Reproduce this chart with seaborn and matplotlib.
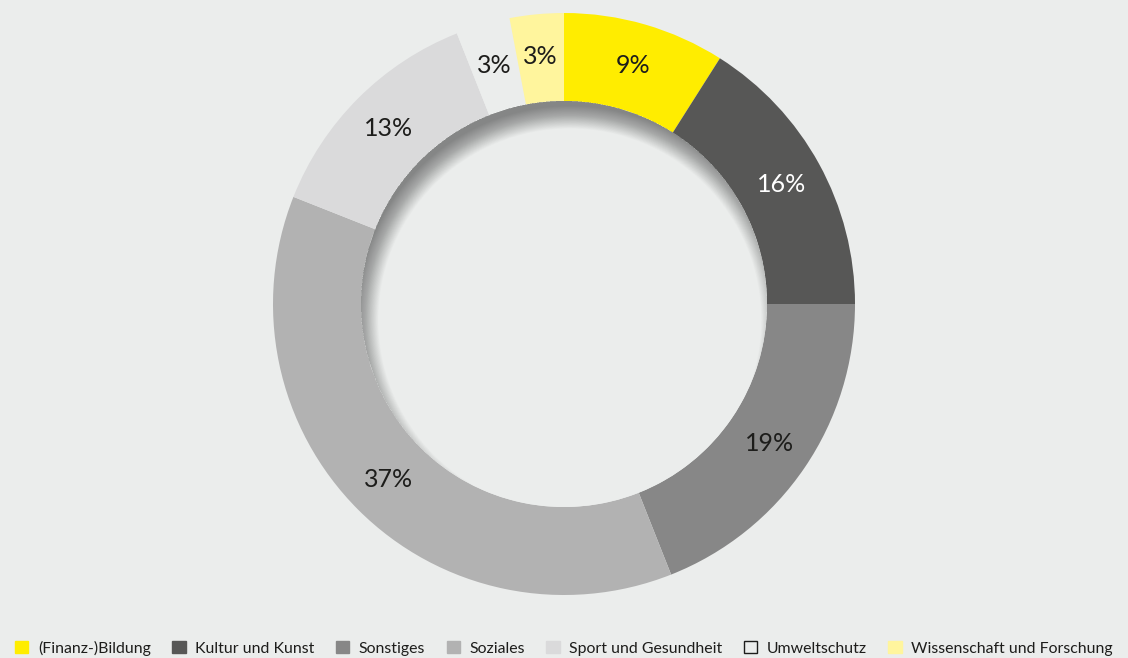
import matplotlib
matplotlib.use("Agg")
import matplotlib.pyplot as plt
from matplotlib.patches import Circle, Wedge, Patch
import seaborn as sns

# data
categories = ["(Finanz-)Bildung", "Kultur und Kunst", "Sonstiges", "Soziales",
              "Sport und Gesundheit", "Umweltschutz", "Wissenschaft und Forschung"]
shares = [9, 16, 19, 37, 13, 3, 3]
labels = ["9%", "16%", "19%", "37%", "13%", "3%", "3%"]

colors = ["#FFED00", "#575756", "#878787", "#B2B2B2", "#DADADB", "#EBEDEC", "#FFF59D"]
label_colors = ["#1d1d1b", "white", "#1d1d1b", "#1d1d1b", "#1d1d1b", "#1d1d1b", "#1d1d1b"]
bg = "#EBEDEC"

sns.set_theme(style="white")
plt.rcParams["font.family"] = ["Lato", "DejaVu Sans"]

W, H = 1128, 658
fig = plt.figure(figsize=(W / 100, H / 100), dpi=100, facecolor=bg)

cx, cy, R = 564, 354, 291
ax = fig.add_axes([(cx - R) / W, (cy - R) / H, 2 * R / W, 2 * R / H])
ax.set_facecolor(bg)
r_in = 203 / 291

wedges, texts = ax.pie(shares, colors=colors, startangle=90, counterclock=False,
                       radius=1, labels=labels, labeldistance=0.855,
                       wedgeprops=dict(width=1 - r_in, linewidth=0),
                       textprops=dict(fontsize=18))
for t, c in zip(texts, label_colors):
    t.set_color(c)
    t.set_ha("center")
    t.set_va("center")

# hole with a soft inner shadow, heavier at the top and left
hole = Circle((0, 0), r_in, facecolor=bg, edgecolor="none", zorder=3)
ax.add_patch(hole)
n, blur = 40, 0.08
off = (0.02, -0.055)
for k in range(n):
    inner = r_in + blur * (k / n - 0.5)
    ring = Wedge(off, r_in + 0.3, 0, 360, width=r_in + 0.3 - inner,
                 facecolor="black", edgecolor="none", alpha=0.011, zorder=4)
    ring.set_clip_path(hole)
    ax.add_patch(ring)

ax.set_xlim(-1, 1)
ax.set_ylim(-1, 1)
ax.set_aspect("equal")
ax.axis("off")

handles = []
for name, col in zip(categories, colors):
    edge = "#1d1d1b" if name == "Umweltschutz" else col
    handles.append(Patch(facecolor=col, edgecolor=edge, linewidth=1, label=name))
fig.legend(handles=handles, loc="lower center", bbox_to_anchor=(0.5, -0.018),
           ncol=7, frameon=False, fontsize=11.4, handlelength=0.85, handleheight=0.85,
           handletextpad=0.6, columnspacing=1.35, labelcolor="#1d1d1b")

fig.savefig("out.png", dpi=100, facecolor=bg)
